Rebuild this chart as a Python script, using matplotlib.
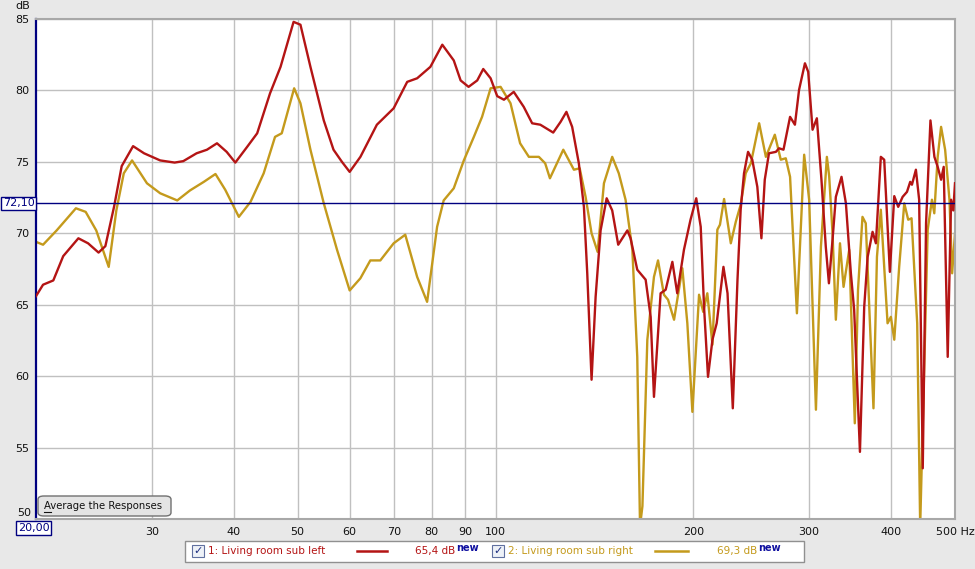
import matplotlib
matplotlib.use("Agg")
from matplotlib import pyplot as plt
from matplotlib.patches import FancyBboxPatch, Rectangle
from matplotlib.lines import Line2D
from matplotlib.ticker import FixedLocator, NullLocator
import matplotlib.transforms as mtransforms

# frequency (Hz) / level (dB)
left_freq = [20, 20.5, 21.25, 22.0, 23.2, 24.0, 24.9, 25.5, 26.3, 27.0, 28.1, 29.2, 30.9, 32.5,
             33.5, 35.1, 36.4, 37.7, 39.0, 40.2, 41.9, 43.4, 45.4, 47.1, 49.3, 50.5, 52.3, 54.8,
             56.7, 58.4, 60, 62.3, 66, 70, 73.4, 76, 79.6, 83, 86.4, 88.5, 91, 93.8, 95.8, 98.3,
             100.6, 103, 106.6, 110.4, 113.7, 117, 119.9, 122.4, 125.6, 128.2, 130.8, 133.9,
             136.3, 137.9, 140, 142, 144.5, 147.6, 150.5, 153.7, 158.7, 160.5, 164.3, 169.2,
             172.2, 174.2, 178.3, 181.5, 185.8, 189, 193.5, 198, 202, 205.2, 207.6, 210.5, 213.8,
             217, 222.2, 225.4, 229.6, 233.4, 236, 238.8, 242.2, 245.8, 250.2, 253.8, 256.8,
             260.6, 267, 270, 274.2, 280.6, 285.4, 289.6, 295.6, 299, 303.6, 308.2, 313.2, 318,
             321.5, 325.6, 329.4, 336, 341.2, 347.2, 351.2, 358.4, 363.8, 368.2, 374.6, 379,
             385.6, 390.2, 398, 404.2, 409.8, 416.2, 422.6, 427.4, 430, 436, 441, 446.6, 451.8,
             458.8, 465.2, 470.6, 476.2, 480.6, 487.4, 493.2, 497, 500]
left_db = [65.6, 66.4, 66.7, 68.4, 69.65, 69.3, 68.65, 69.1, 71.9, 74.7, 76.1, 75.6, 75.1, 74.95,
           75.05, 75.6, 75.85, 76.3, 75.7, 74.95, 76.05, 77.0, 79.8, 81.65, 84.8, 84.6, 81.65, 77.9,
           75.85, 75.0, 74.3, 75.35, 77.6, 78.75, 80.6, 80.85, 81.65, 83.2, 82.1, 80.7, 80.25, 80.7,
           81.5, 80.85, 79.6, 79.35, 79.9, 78.85, 77.7, 77.6, 77.3, 77.05, 77.8, 78.5, 77.45, 74.9,
           71.85, 67.2, 59.75, 65.55, 70.2, 72.45, 71.6, 69.2, 70.2, 69.65, 67.45, 66.75,
           64.15, 58.55, 65.8, 66.05, 68.0, 65.8, 68.85, 70.95, 72.45, 70.45, 64.85, 59.95, 62.55,
           63.7, 67.65, 65.8, 57.75, 66.75, 71.65, 74.2, 75.7, 75.15, 73.25, 69.65, 73.75,
           75.6, 75.7, 75.95, 75.85, 78.15, 77.6, 80.05, 81.9, 81.3, 77.25, 78.05, 73.75, 69.05,
           66.5, 69.55, 72.55, 73.95, 72.1, 67.2, 64.65, 54.7, 64.85, 68.35, 70.1, 69.3,
           75.35, 75.15, 67.3, 72.6, 71.85, 72.55, 72.9, 73.6, 73.4, 74.45, 72.35, 53.55, 70.7,
           77.9, 75.35, 74.65, 73.75, 74.65, 61.35, 72.35, 71.6, 73.5]

right_freq = [20, 20.5, 21.5, 23.0, 23.8, 24.7, 25.8, 26.5, 27.2, 28.0, 29.5, 30.9, 32.8, 34.3,
              36, 37.5, 38.8, 40.7, 42.4, 44.4, 46.2, 47.3, 49.4, 50.5, 52.3, 54.8, 57.4, 60,
              62.3, 64.5, 66.8, 70, 72.9, 76, 78.7, 81.5, 83.4, 86.4, 89.5, 92.7, 95.4, 98.3,
              101.8, 105.4, 109, 112.4, 116.4, 119, 121, 126.8, 131.6, 134.3, 137.1, 140, 143,
              146.2, 150.5, 154, 157.7, 161.5, 164.3, 165.9, 167.3, 170.2, 174.2, 176.7, 180.4,
              183, 186.9, 192.4, 195.8, 199.3, 204, 207, 210, 213.8, 217.5, 219.5, 222.7, 228,
              232, 236, 240.2, 244.6, 251.8, 257.8, 266, 271.6, 276.4, 280.6, 287.4, 294.8, 300,
              307.2, 312.6, 319.2, 321.8, 325.6, 329.4, 334.2, 338.4, 345.2, 352, 356, 361.6,
              365.8, 375.8, 380.4, 385.6, 394.8, 399.4, 404.2, 411.2, 418.6, 424.4, 429.4, 438,
              442.6, 448, 454.4, 461.2, 465, 470.6, 476.2, 483, 490.4, 495, 500]
right_db = [69.4, 69.2, 70.2, 71.75, 71.5, 70.2, 67.65, 71.6, 74.2, 75.1, 73.5, 72.8, 72.3, 73.0,
            73.6, 74.15, 73.05, 71.15, 72.2, 74.2, 76.75, 77.0, 80.15, 79.1, 75.85, 72.1, 68.85, 66.0,
            66.85, 68.1, 68.1, 69.3, 69.9, 66.95, 65.2, 70.45, 72.3, 73.15, 75.1, 76.75, 78.15, 80.15,
            80.25, 79.1, 76.3, 75.35, 75.35, 74.9, 73.85, 75.85, 74.45, 74.55, 72.55, 70.0, 68.7,
            73.5, 75.35, 74.2, 72.35, 68.85, 61.35, 49.5, 50.9, 62.55, 66.95, 68.1, 65.7,
            65.35, 63.95, 67.55, 63.7, 57.5, 65.7, 64.5, 65.8, 62.2, 70.25, 70.6, 72.4, 69.3,
            70.8, 72.0, 74.2, 74.9, 77.7, 75.35, 76.9, 75.15, 75.25, 73.95, 64.4, 75.5, 72.35,
            57.65, 69.05, 75.35, 74.0, 70.0, 63.95, 69.3, 66.25, 68.85, 56.7, 66.05, 71.15,
            70.7, 57.75, 68.35, 71.65, 63.7, 64.15, 62.55, 67.65, 72.1, 70.95, 71.05, 63.7,
            49.5, 59.05, 70.25, 72.35, 71.4, 75.35, 77.45, 75.85, 72.35, 67.2, 70.0]

x_ticks = [30, 40, 50, 60, 70, 80, 90, 100, 200, 300, 400, 500]
x_labels = ["30", "40", "50", "60", "70", "80", "90", "100", "200", "300", "400", "500 Hz"]
y_ticks = [50, 55, 60, 65, 70, 75, 80, 85]
y_labels = ["", "55", "60", "65", "70", "75", "80", "85"]
target_level = 72.10

RED = "#b41414"
GOLD = "#c49a1c"
NAVY = "#000080"
W, H = 975, 569

plt.rcParams["font.family"] = ["DejaVu Sans"]

fig = plt.figure(figsize=(W / 100, H / 100), dpi=100, facecolor="#e8e8e8")


def fx(px):
    return px / W


def fy(py):
    return 1 - py / H


ax = fig.add_axes([fx(36), fy(519), (955 - 36) / W, (519 - 19) / H])
ax.set_facecolor("white")
ax.set_xscale("log")
ax.set_xlim(20, 500)
ax.set_ylim(50, 85)

ax.xaxis.set_major_locator(FixedLocator(x_ticks))
ax.xaxis.set_minor_locator(NullLocator())
ax.set_xticklabels(x_labels)
ax.set_yticks(y_ticks)
ax.set_yticklabels(y_labels)
ax.tick_params(axis="both", length=0, labelsize=8, colors="#111111")
ax.tick_params(axis="x", pad=6)
ax.tick_params(axis="y", pad=5)
ax.grid(True, color="#c0c0c0", lw=1.0)
ax.set_axisbelow(True)

for name in ["top", "right", "bottom"]:
    ax.spines[name].set_color("#a8a8a8")
    ax.spines[name].set_linewidth(1.5)
ax.spines["left"].set_color(NAVY)
ax.spines["left"].set_linewidth(1.6)

ax.plot(left_freq, left_db, color=RED, lw=1.7, solid_joinstyle="round", zorder=3)
ax.plot(right_freq, right_db, color=GOLD, lw=1.7, solid_joinstyle="round", zorder=2)
ax.axhline(target_level, color=NAVY, lw=1.0, zorder=4)

# level marker box on the y axis
trans = mtransforms.blended_transform_factory(fig.transFigure, ax.transData)
ax.text(fx(18.5), target_level, "72,10", transform=trans, ha="center", va="center",
        fontsize=8, color=NAVY,
        bbox=dict(boxstyle="square,pad=0.15", fc="white", ec=NAVY, lw=1.0))

# bottom "50" sits a little higher, above the 20,00 box
fig.text(fx(31), fy(513), "50", ha="right", va="center", fontsize=8, color="#111111")
fig.text(fx(33.5), fy(528), "20,00", ha="center", va="center", fontsize=8, color=NAVY,
         bbox=dict(boxstyle="square,pad=0.15", fc="white", ec=NAVY, lw=1.0))
fig.text(fx(23), fy(6), "dB", ha="center", va="center", fontsize=8, color="#111111")

# "Average the Responses" button
btn = FancyBboxPatch((fx(38), fy(516)), fx(171) - fx(38), fy(496) - fy(516),
                     boxstyle="round,pad=0,rounding_size=0.006", transform=fig.transFigure,
                     fc="#e4e4e4", ec="#707070", lw=1.0, zorder=5)
fig.add_artist(btn)
fig.text(fx(44), fy(506), "Average the Responses", ha="left", va="center",
         fontsize=7.3, color="#111111", zorder=6)
fig.add_artist(Line2D([fx(44), fx(51)], [fy(512), fy(512)], color="#111111", lw=0.8,
                      transform=fig.transFigure, zorder=6))

# legend bar
fig.add_artist(Rectangle((fx(185), fy(562)), fx(804) - fx(185), fy(541) - fy(562),
                         transform=fig.transFigure, fc="white", ec="#909090", lw=1.0))

entries = [
    (192, "1: Living room sub left", RED, (357, 387), 415, "65,4 dB"),
    (492, "2: Living room sub right", GOLD, (655, 688), 717, "69,3 dB"),
]
for cb_x, label, color, (lx0, lx1), val_x, val in entries:
    fig.add_artist(Rectangle((fx(cb_x), fy(557)), fx(12), fy(545) - fy(557),
                             transform=fig.transFigure, fc="#eef2f8", ec="#6070a0", lw=0.8))
    fig.text(fx(cb_x + 6), fy(551), "\u2713", ha="center", va="center", fontsize=8,
             color="#203080", fontweight="bold")
    fig.text(fx(cb_x + 16), fy(551), label, ha="left", va="center", fontsize=7.5, color=color)
    fig.add_artist(Line2D([fx(lx0), fx(lx1)], [fy(551), fy(551)], color=color, lw=1.8,
                          transform=fig.transFigure))
    t = fig.text(fx(val_x), fy(551), val, ha="left", va="center", fontsize=7.5, color=color)
    fig.add_artist(plt.Annotation("new", xy=(1, 0.5), xycoords=t, xytext=(0.5, 2.5),
                                  textcoords="offset points", ha="left", va="center",
                                  fontsize=7, color="#1010a0", fontweight="bold"))

fig.savefig("out.png", dpi=100, facecolor=fig.get_facecolor())
